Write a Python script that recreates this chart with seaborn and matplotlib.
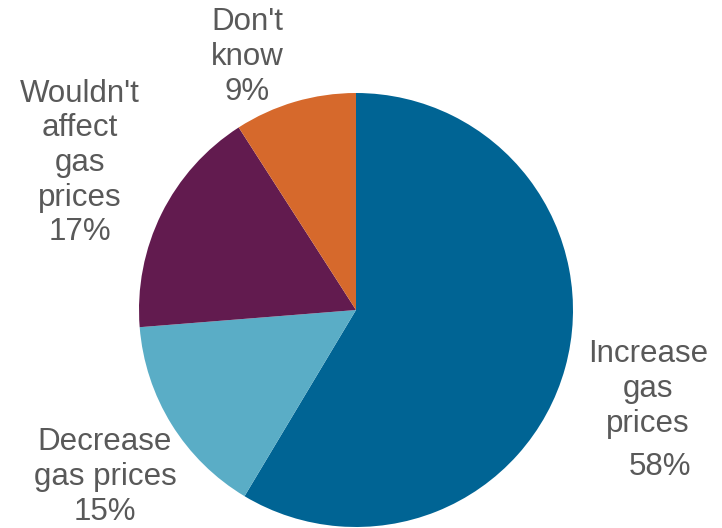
import matplotlib
matplotlib.use("Agg")
import matplotlib.pyplot as plt
import seaborn as sns

# answers and shares (percent)
categories = ["Increase\ngas\nprices", "Decrease\ngas prices", "Wouldn't\naffect\ngas\nprices", "Don't\nknow"]
shares = [58, 15, 17, 9]
colors = ["#006494", "#5aadc6", "#621b4f", "#d6692c"]

sns.set_theme(style="white")
plt.rcParams['font.family'] = ['Liberation Sans', 'DejaVu Sans']

fig = plt.figure(figsize=(7.22, 5.28), dpi=100)
cx, cy, r = 356, 310, 217
ax = fig.add_axes([(cx - r) / 722, (528 - cy - r) / 528, 2 * r / 722, 2 * r / 528])

ax.pie(shares, colors=sns.color_palette(colors), startangle=90, counterclock=False,
       radius=1, wedgeprops={'linewidth': 0})
ax.set_xlim(-1, 1)
ax.set_ylim(-1, 1)
ax.set_aspect('equal')
ax.axis('off')

# label centres in pixels of the reference picture
label_pos = [(648, 389), (105, 477), (80, 163), (247, 57)]
grey = "#595959"
fs = 22.5
for name, val, (px, py) in zip(categories, shares, label_pos):
    x = (px - cx) / r
    y = (cy - py) / r
    if name.startswith("Increase"):
        ax.text(x, y, name, ha='center', va='center', fontsize=fs, color=grey,
                linespacing=1.2, clip_on=False)
        ax.text((660 - cx) / r, (cy - 467) / r, f"{val}%", ha='center', va='center',
                fontsize=fs, color=grey, clip_on=False)
    else:
        ax.text(x, y, f"{name}\n{val}%", ha='center', va='center', fontsize=fs,
                color=grey, linespacing=1.2, clip_on=False)

fig.savefig("out.png", dpi=100)
